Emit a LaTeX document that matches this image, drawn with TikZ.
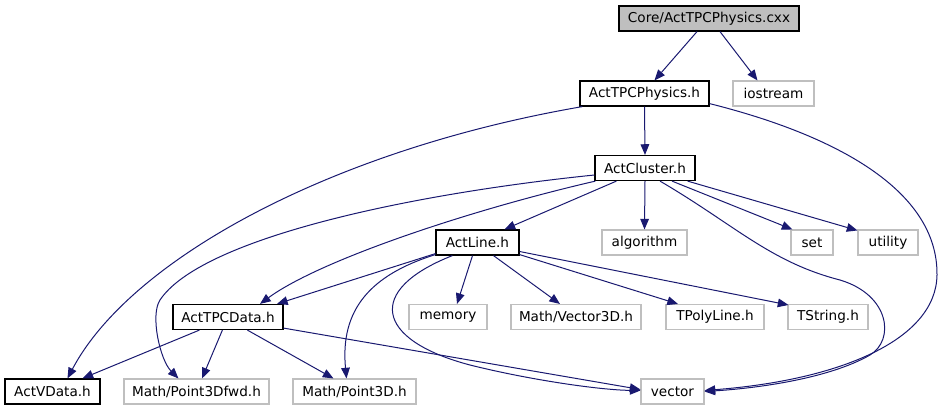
\documentclass[tikz,border=0pt]{standalone}
\usepackage{fontspec}
\setmainfont{DejaVu Sans}
\usetikzlibrary{arrows.meta,calc}
\definecolor{edgecol}{HTML}{191970}
\definecolor{graybd}{HTML}{BFBFBF}
\begin{document}
\begin{tikzpicture}[x=0.75pt,y=-0.75pt,
  box/.style={draw=black,line width=0.9pt,rectangle,inner sep=0pt,minimum height=18.75pt,font=\fontsize{10.2}{12}\selectfont},
  gbox/.style={box,draw=graybd,line width=0.8pt},
  edge/.style={draw=edgecol,line width=0.75pt,-{Triangle[length=8pt,width=6.5pt]}}]
\useasboundingbox (0,0) rectangle (943,411);
% nodes
\node[box,fill=graybd,minimum width=135pt] (cxx) at (709,18.5) {Core/ActTPCPhysics.cxx};
\node[box,minimum width=96.75pt] (tpcph) at (644.5,93.5) {ActTPCPhysics.h};
\node[gbox,minimum width=60.75pt] (iostream) at (773.5,93.5) {iostream};
\node[box,minimum width=75pt] (cluster) at (645,168) {ActCluster.h};
\node[box,minimum width=62.25pt] (line) at (477.5,242.5) {ActLine.h};
\node[gbox,minimum width=63.75pt] (algorithm) at (644.5,242.5) {algorithm};
\node[gbox,minimum width=31.5pt] (set) at (812,242.5) {set};
\node[gbox,minimum width=45pt] (utility) at (888,242.5) {utility};
\node[box,minimum width=82.5pt] (tpcdata) at (228,317) {ActTPCData.h};
\node[gbox,minimum width=58.5pt] (memory) at (448,317) {memory};
\node[gbox,minimum width=97.5pt] (vector3d) at (576,317) {Math/Vector3D.h};
\node[gbox,minimum width=73.5pt] (tpolyline) at (715,317) {TPolyLine.h};
\node[gbox,minimum width=60pt] (tstring) at (828,317) {TString.h};
\node[box,minimum width=71.25pt] (vdata) at (52.5,391.5) {ActVData.h};
\node[gbox,minimum width=108.75pt] (p3dfwd) at (196.5,391.5) {Math/Point3Dfwd.h};
\node[gbox,minimum width=92.25pt] (p3d) at (354.5,391.5) {Math/Point3D.h};
\node[gbox,minimum width=47.25pt] (vector) at (672.5,391.5) {vector};
% edges
\draw[edge] ($(cxx.south)+(-12,0)$) -- ($(tpcph.north)+(10,0)$);
\draw[edge] ($(cxx.south)+(11,0)$) -- ($(iostream.north)+(-16,0)$);
\draw[edge] (tpcph.south) -- (cluster.north);
\draw[edge] ($(tpcph.south west)+(3,0)$) .. controls (330,150) and (130,260) .. ($(vdata.north)+(15,0)$);
\draw[edge] ($(tpcph.south east)+(0,-3)$) .. controls (835,135) and (938,190) .. (937,275)
   .. controls (936,340) and (840,380) .. ($(vector.east)+(0,-1)$);
\draw[edge] ($(cluster.south west)+(22,0)$) -- ($(line.north)+(27,0)$);
\draw[edge] (cluster.south) -- (algorithm.north);
\draw[edge] ($(cluster.south)+(27,0)$) -- ($(set.north west)+(2,0)$);
\draw[edge] ($(cluster.south east)+(-8,0)$) -- ($(utility.north west)+(0,1)$);
\draw[edge] ($(cluster.south)+(15,0)$) .. controls (735,225) and (770,262) .. (840,280)
   .. controls (890,295) and (895,340) .. (870,355)
   .. controls (830,378) and (760,388) .. ($(vector.east)+(0,0)$);
\draw[edge] ($(cluster.south west)+(1,0)$) .. controls (470,210) and (320,260) .. ($(tpcdata.north)+(32,0)$);
\draw[edge] ($(cluster.west)+(0,7)$) .. controls (400,195) and (200,240) .. (160,300)
   .. controls (150,315) and (160,360) .. ($(p3dfwd.north west)+(55,0)$);
\draw[edge] ($(line.south west)+(0,-2)$) -- ($(tpcdata.north)+(49,0)$);
\draw[edge] ($(line.south west)+(0,-1)$) .. controls (370,275) and (340,310) .. ($(p3d.north)+(-8,0)$);
\draw[edge] ($(line.south west)+(17,0)$) .. controls (365,290) and (375,340) .. (470,365)
   .. controls (530,380) and (600,390) .. ($(vector.west)+(0,-1)$);
\draw[edge] ($(line.south)+(-5,0)$) -- ($(memory.north)+(9,0)$);
\draw[edge] ($(line.south)+(16,0)$) -- ($(vector3d.north)+(-16,0)$);
\draw[edge] ($(line.south east)+(0,-1)$) -- ($(tpolyline.north)+(-37,0)$);
\draw[edge] ($(line.east)+(0,9)$) -- ($(tstring.north west)+(1,1)$);
\draw[edge] ($(tpcdata.south west)+(27,0)$) -- ($(vdata.north)+(30,0)$);
\draw[edge] ($(tpcdata.south west)+(50,0)$) -- ($(p3dfwd.north)+(5.5,0)$);
\draw[edge] ($(tpcdata.south west)+(75,0)$) -- ($(p3d.north)+(-21,0)$);
\draw[edge] ($(tpcdata.south east)+(0,-2)$) -- ($(vector.west)+(0,-2)$);
\end{tikzpicture}
\end{document}
